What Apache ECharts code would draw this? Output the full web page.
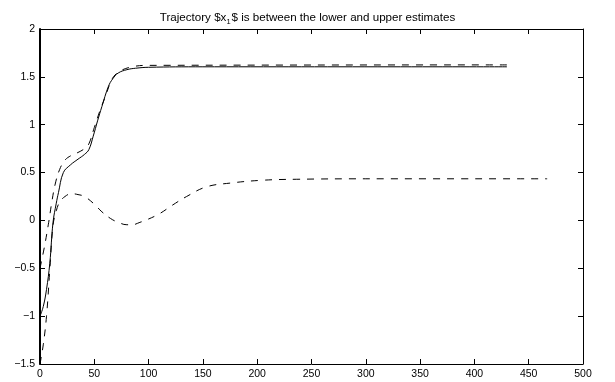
<!DOCTYPE html>
<html>
<head>
<meta charset="utf-8">
<script src="https://cdn.jsdelivr.net/npm/echarts@6/dist/echarts.min.js"></script>
<style>
  html, body { margin: 0; padding: 0; background: #fff; }
  #chart { width: 615px; height: 382px; }
</style>
</head>
<body>
<div id="chart"></div>
<script>
// values
const trajectory = [
  [0, -1], [3, -0.9], [6, -0.72], [9, -0.45], [12, -0.02], [15, 0.18], [17, 0.29],
  [21.5, 0.5], [28, 0.58], [35, 0.64], [41, 0.69], [45, 0.74], [49, 0.88], [53, 1.04],
  [57, 1.19], [63, 1.4], [67, 1.48], [72, 1.54], [80, 1.575], [88, 1.59], [100, 1.6],
  [150, 1.605], [430, 1.605]
];
const upperEstimate = [
  [0, -0.5], [4, -0.28], [8, -0.02], [11, 0.2], [14, 0.38], [18, 0.53], [23, 0.63],
  [29, 0.68], [35, 0.71], [41, 0.75], [45, 0.8], [50, 0.97], [55, 1.14], [60, 1.29],
  [66, 1.47], [70, 1.53], [75, 1.57], [87, 1.61], [100, 1.62], [430, 1.625]
];
const lowerEstimate = [
  [0, -1.5], [3, -1.3], [6, -1], [9, -0.52], [12, -0.05], [15, 0.1], [18, 0.19],
  [23, 0.25], [29, 0.28], [35, 0.27], [41, 0.25], [50, 0.17], [57, 0.09], [65, 0.02],
  [72, -0.02], [80, -0.045], [85, -0.045], [92, -0.02], [98, 0.005], [110, 0.07],
  [122, 0.16], [135, 0.25], [153, 0.35], [175, 0.39], [205, 0.42], [236, 0.43],
  [300, 0.435], [467, 0.435]
];
const xTicks = { min: 0, max: 500, interval: 50 };
const yTicks = { min: -1.5, max: 2, interval: 0.5 };

const chart = echarts.init(document.getElementById('chart'), null, { renderer: 'canvas' });

const font = 'Liberation Sans, Arial, Helvetica, sans-serif';
const fmt = v => String(v).replace('-', '\u2212');

const boxAxis = (pos, ticks, showLabel, width) => ({
  type: 'value',
  position: pos,
  min: ticks.min,
  max: ticks.max,
  interval: ticks.interval,
  axisLine: { show: true, onZero: false, lineStyle: { color: '#000', width: width } },
  axisTick: { show: true, inside: true, length: 5, lineStyle: { color: '#000' } },
  axisLabel: {
    show: showLabel,
    color: '#000',
    fontSize: 10.5,
    fontFamily: font,
    margin: 5,
    formatter: fmt
  },
  splitLine: { show: false }
});

const lineSeries = (name, data, dashed) => ({
  type: 'line',
  name,
  data,
  smooth: 0.4,
  symbol: 'none',
  lineStyle: { color: '#000', width: 1, type: dashed ? [7, 7] : 'solid' },
  silent: true
});

chart.setOption({
  backgroundColor: '#fff',
  animation: false,
  title: {
    text: '{a|Trajectory $x}{s|1}{a|$ is between the lower and upper estimates}',
    left: 'center',
    top: 4,
    textStyle: {
      rich: {
        a: { fontSize: 11.6, fontFamily: font, fontWeight: 'normal', color: '#000' },
        s: { fontSize: 7.5, fontFamily: font, fontWeight: 'normal', color: '#000', padding: [9, 1, 0, 0] }
      }
    }
  },
  grid: { left: 40, right: 32, top: 29, bottom: 18 },
  xAxis: [boxAxis('bottom', xTicks, true, 1), boxAxis('top', xTicks, false, 1)],
  yAxis: [boxAxis('left', yTicks, true, 2), boxAxis('right', yTicks, false, 1)],
  series: [
    lineSeries('trajectory', trajectory, false),
    lineSeries('upper', upperEstimate, true),
    lineSeries('lower', lowerEstimate, true)
  ]
});
</script>
</body>
</html>
